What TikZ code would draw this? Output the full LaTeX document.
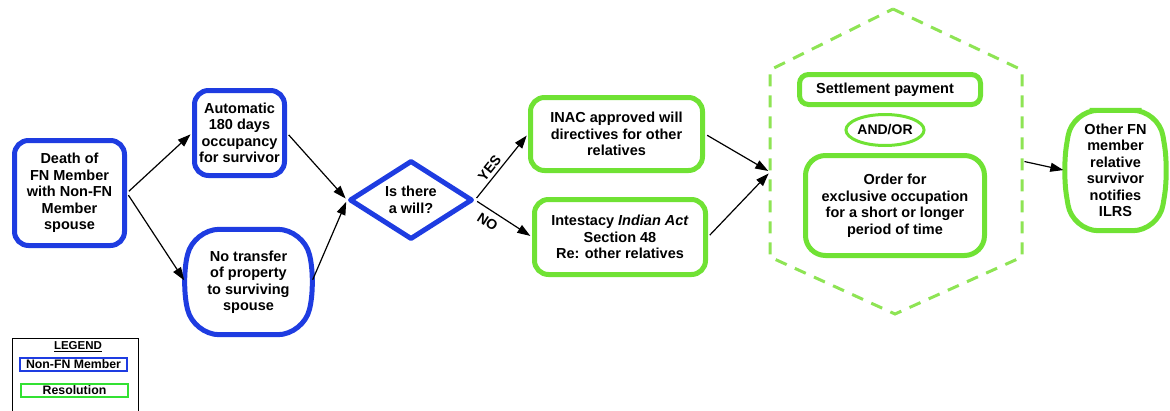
\documentclass[tikz,border=0pt]{standalone}
\usepackage{fontspec}
\setmainfont{Liberation Sans}
\usetikzlibrary{arrows.meta,shapes.geometric,calc}
\definecolor{fnblue}{RGB}{30,60,225}
\definecolor{resgreen}{RGB}{112,226,52}
\definecolor{dashgreen}{RGB}{142,228,84}
\definecolor{leggreen}{RGB}{50,225,50}

\begin{document}
\begin{tikzpicture}[x=1pt,y=-1pt,
  txt/.style={font=\fontsize{14.5}{16.5}\selectfont\bfseries, align=center, inner sep=0pt},
  bluebox/.style={txt, draw=fnblue, line width=5pt, rounded corners=14pt},
  greenbox/.style={txt, draw=resgreen, line width=5pt, rounded corners=14pt},
  bulge/.style={line width=5pt, rounded corners=26pt},
  flow/.style={-{Triangle[length=13pt,width=9pt]}, line width=1.2pt, shorten >=2pt, shorten <=2.5pt},
  lbl/.style={font=\fontsize{14}{16}\selectfont\bfseries, inner sep=2pt},
  legbox/.style={font=\fontsize{12.3}{14}\selectfont\bfseries, line width=2pt, minimum width=107pt, minimum height=13pt, inner sep=0pt}
]
\useasboundingbox (0,0) rectangle (1170,410);

% --- non-FN member steps ---
\node[bluebox, minimum width=110pt, minimum height=105pt] (death) at (69.5,193)
  {Death of\\FN Member\\with Non-FN\\Member\\spouse};
\node[bluebox, minimum width=90pt, minimum height=85pt] (auto) at (239.5,133)
  {Automatic\\180 days\\occupancy\\for survivor};
\node[txt, minimum width=126pt, minimum height=105pt] (nt) at (248.5,282)
  {No transfer\\of property\\to surviving\\spouse};
\draw[bulge, fnblue] (nt.north) -- ($(nt.north east)+(-8,0)$) -- ($(nt.east)+(4,0)$)
  -- ($(nt.south east)+(-8,0)$) -- ($(nt.south west)+(8,0)$) -- ($(nt.west)+(-4,0)$)
  -- ($(nt.north west)+(8,0)$) -- cycle;
\node[txt, diamond, aspect=1.5, draw=fnblue, line width=5pt, line join=round,
  minimum width=123pt, minimum height=79pt] (dia) at (411,200) {Is there\\a will?};

% --- resolutions ---
\node[greenbox, minimum width=172pt, minimum height=73pt] (inac) at (616.5,134)
  {INAC approved will\\directives for other\\relatives};
\node[greenbox, minimum width=171pt, minimum height=75pt] (intest) at (620,237)
  {Intestacy \textit{Indian Act}\\Section 48\\Re: other relatives};

% dashed hexagon grouping the possible orders
\draw[dashgreen, line width=3pt, dash pattern=on 12pt off 9pt]
  (893,9) -- (1022,70) -- (1022,257) -- (895,314) -- (770,257) -- (770,70) -- cycle;
\coordinate (hexin) at (770,172);
\coordinate (hexout) at (1022,161);

\node[greenbox, rounded corners=9pt, minimum width=181pt, minimum height=30pt] (settle)
  at (890,89.5) {Settlement payment\hspace*{10pt}};
\node[txt, ellipse, draw=resgreen, line width=3pt, minimum width=71pt, minimum height=31pt,
  font=\fontsize{14}{16}\selectfont\bfseries] (andor) at (885,130) {AND/OR};
\node[greenbox, rounded corners=20pt, minimum width=179pt, minimum height=100pt] (order)
  at (895,205.5) {Order for\\exclusive occupation\\for a short or longer\\period of time};

\node[txt, minimum width=100pt, minimum height=120pt] (other) at (1115.5,170.5)
  {Other FN\\member\\relative\\survivor\\notifies\\ILRS};
\draw[bulge, resgreen] (other.north) -- ($(other.north east)+(-7,0)$) -- ($(other.east)+(3,0)$)
  -- ($(other.south east)+(-7,0)$) -- ($(other.south west)+(7,0)$) -- ($(other.west)+(-3,0)$)
  -- ($(other.north west)+(7,0)$) -- cycle;

% --- connectors ---
\draw[flow] (death.east) -- (auto.west);
\draw[flow] (death.east) -- (nt.west);
\draw[flow] (auto.east) -- (dia.west);
\draw[flow] (nt.east) -- (dia.west);
\draw[flow] (dia.east) -- node[lbl, sloped, above=1pt, pos=0.4] {YES} (inac.west);
\draw[flow] (dia.east) -- node[lbl, sloped, below=4pt, pos=0.33] {NO} (intest.west);
\draw[flow] (inac.east) -- (hexin);
\draw[flow] (intest.east) -- (hexin);
\draw[flow] (hexout) -- (other.west);

% --- legend ---
\draw[line width=1pt] (12,412) -- (12,338) -- (138,338) -- (138,412);
\node[font=\fontsize{11.5}{13}\selectfont\bfseries, inner sep=0pt] (legt) at (78,347) {\underline{LEGEND}};
\node[legbox, draw=fnblue] (legnon) at (73.5,364.5) {Non-FN Member};
\node[legbox, draw=leggreen] (legres) at (74.5,390.5) {Resolution};
\end{tikzpicture}
\end{document}
